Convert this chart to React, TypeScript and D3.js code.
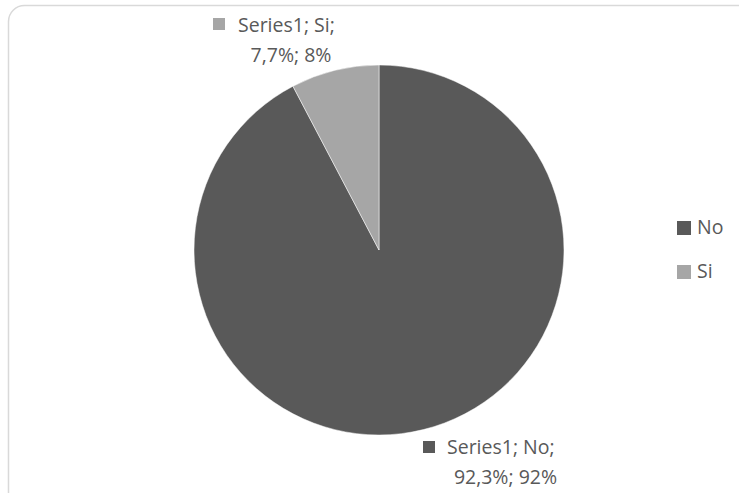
import React from "react";
import * as d3 from "d3";

const categories = ["No", "Si"];
const values = [92.3, 7.7];
const roundedPct = ["92%", "8%"];
const seriesName = "Series1";
const colors = ["#595959", "#a6a6a6"];

const W = 739;
const H = 493;
const cx = 379;
const cy = 250;
const R = 185;
const FONT = "'Open Sans', 'Noto Sans', sans-serif";
const TXT = "#595959";
const FS = 19.5;

export default function App() {
  const pie = d3.pie<number>().sort(null).startAngle(0).endAngle(2 * Math.PI)(values);
  const arc = d3.arc<d3.PieArcDatum<number>>().innerRadius(0).outerRadius(R);
  const fmt = (v: number) => v.toFixed(1).replace(".", ",") + "%";

  const labelPos = [
    { sx: 423, sy: 441, tx: 447, ty: 454, cx2: 505.5, ty2: 484 },
    { sx: 213, sy: 18, tx: 238, ty: 32, cx2: 291, ty2: 62 },
  ];

  return (
    <svg
      width={W}
      height={H}
      style={{ position: "absolute", left: 0, top: 0, background: "#fff" }}
    >
      <rect x={8.5} y={5.5} width={W + 10} height={H + 10} rx={16} ry={16} fill="#fff" stroke="#d9d9d9" strokeWidth={1.5} />
      <g transform={`translate(${cx},${cy})`}>
        {pie.map((d, i) => (
          <path key={categories[i]} d={arc(d) || ""} fill={colors[i]} stroke="#fff" strokeWidth={0.5} />
        ))}
      </g>
      {pie.map((d, i) => {
        const p = labelPos[i];
        return (
          <g key={"lbl" + i} fontFamily={FONT} fontSize={FS} fill={TXT}>
            <rect x={p.sx} y={p.sy} width={12} height={12} fill={colors[i]} />
            <text x={p.tx} y={p.ty}>{`${seriesName}; ${categories[i]};`}</text>
            <text x={p.cx2} y={p.ty2} textAnchor="middle">{`${fmt(values[i])}; ${roundedPct[i]}`}</text>
          </g>
        );
      })}
      {categories.map((c, i) => (
        <g key={"leg" + c} fontFamily={FONT} fontSize={FS} fill={TXT}>
          <rect x={677} y={221 + i * 44} width={14} height={14} fill={colors[i]} />
          <text x={697} y={234 + i * 44}>{c}</text>
        </g>
      ))}
    </svg>
  );
}
